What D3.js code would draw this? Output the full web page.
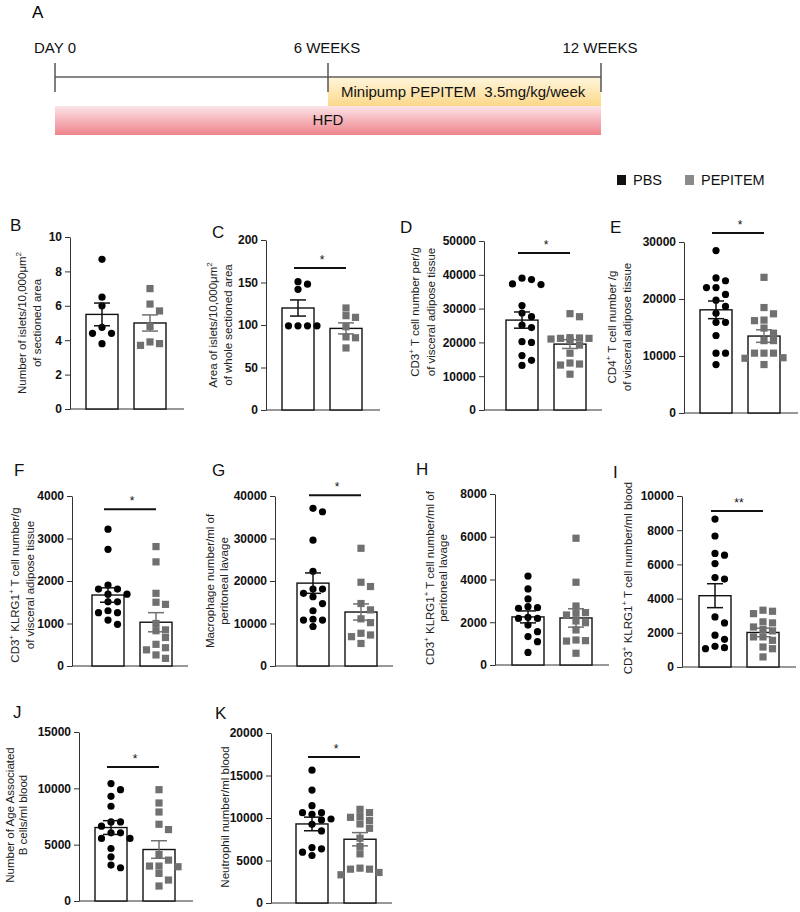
<!DOCTYPE html>
<html><head><meta charset="utf-8">
<script src="https://cdn.jsdelivr.net/npm/d3@7"></script>
<style>
body{margin:0;background:#fff}
svg{display:block}
text{font-family:"Liberation Sans",Arial,Helvetica,sans-serif}
</style>
</head><body>
<svg id="chart" width="800" height="912"></svg>
<script>
// ---------------- DATA ----------------
const groups = ["PBS", "PEPITEM"];

// Panel A timeline
const timelineLabels = ["DAY 0", "6 WEEKS", "12 WEEKS"];
const timelineWeeks = [0, 6, 12];
const treatmentLabel = "Minipump PEPITEM  3.5mg/kg/week";
const treatmentWeeks = [6, 12];
const dietLabel = "HFD";
const dietWeeks = [0, 12];

// Individual points per panel
const bPBS = [8.7, 6.5, 6.0, 4.75, 4.4, 4.4, 3.8];
const bPEP = [7.0, 6.1, 5.7, 4.8, 3.9, 3.8, 3.7];
const cPBS = [151, 148, 142, 99, 99, 99, 99];
const cPEP = [120, 111, 109, 98, 86, 85, 73];
const dPBS = [38600, 39000, 37100, 37300, 30900, 28700, 27600, 25100, 24400, 20000, 20200, 16100, 14700, 13200];
const dPEP = [27600, 28500, 21400, 21200, 21000, 21300, 21200, 20600, 19200, 16800, 13600, 13300, 13900, 10600];
const ePBS = [28500, 23700, 23200, 22000, 22000, 20800, 19800, 18700, 17500, 15900, 15900, 13600, 10500, 10500, 8500];
const ePEP = [23800, 18500, 17400, 16300, 16200, 14900, 14000, 12700, 12700, 10500, 10500, 10500, 9700, 9600, 8500];
const fPBS = [3220, 2745, 1905, 1810, 1810, 1690, 1690, 1510, 1510, 1255, 1255, 1300, 1080, 980];
const fPEP = [2810, 2450, 1710, 1500, 1450, 1000, 850, 830, 670, 510, 430, 380, 260, 180];
const gPBS = [37100, 36300, 29600, 22300, 18100, 18100, 17100, 16300, 14700, 13000, 10800, 11000, 10800, 9300];
const gPEP = [27700, 19700, 18700, 14700, 13200, 11100, 10200, 7700, 7300, 6900, 5300];
const hPBS = [4160, 3560, 3090, 2650, 2680, 2730, 2180, 2180, 2230, 1870, 1560, 1330, 1090, 590];
const hPEP = [5930, 3870, 2760, 2450, 2340, 2420, 2060, 1980, 1640, 1140, 1170, 1120, 550];
const iPBS = [8650, 7660, 6640, 6540, 6050, 5230, 5140, 2930, 2580, 1860, 1620, 1070, 1210, 1130];
const iPEP = [3320, 3260, 3120, 2580, 2640, 2340, 2110, 2190, 1760, 1560, 1760, 1170, 1070, 590];
const jPBS = [10420, 9880, 9290, 8410, 7020, 7020, 6640, 6050, 6050, 5550, 5550, 4660, 3920, 3190, 2950];
const jPEP = [9880, 8700, 7900, 6810, 6340, 4130, 3630, 3100, 3040, 3100, 2450, 1860, 1330];
const kPBS = [15630, 13280, 11450, 10630, 10630, 10430, 9880, 9260, 8480, 6520, 6370, 5980, 5590, 9770];
const kPEP = [11020, 10630, 10160, 9690, 10080, 9300, 8790, 7620, 6640, 5780, 3980, 3980, 4100, 3590, 3320];

const panelIds = ["B", "C", "D", "E", "F", "G", "H", "I", "J", "K"];
const pbsValues = [bPBS, cPBS, dPBS, ePBS, fPBS, gPBS, hPBS, iPBS, jPBS, kPBS];
const pepValues = [bPEP, cPEP, dPEP, ePEP, fPEP, gPEP, hPEP, iPEP, jPEP, kPEP];
const barMeans = [[5.5, 5.0], [120, 96], [26600, 19500], [18100, 13500], [1670, 1030],
                  [19500, 12700], [2250, 2200], [4170, 2020], [6520, 4570], [9300, 7500]];
const barSems = [[0.66, 0.47], [9.5, 6.5], [2400, 1300], [1550, 1100], [170, 225],
                 [2400, 1900], [280, 430], [700, 250], [610, 780], [800, 780]];
const yMaxes = [10, 200, 50000, 30000, 4000, 40000, 8000, 10000, 15000, 20000];
const yTickSteps = [2, 50, 10000, 10000, 1000, 10000, 2000, 2000, 5000, 5000];
const sigMarks = ["", "*", "*", "*", "*", "*", "", "**", "*", "*"];
const sigLevels = [null, 167, 46450, 31600, 3690, 40200, null, 9120, 11890, 17180];
const yTitles = [
  ["Number of islets/10,000μm^2", "of sectioned area"],
  ["Area of islets/10,000μm^2", "of whole sectioned area"],
  ["CD3^+ T cell number per/g", "of visceral adipose tissue"],
  ["CD4^+ T cell number /g", "of visceral adipose tissue"],
  ["CD3^+ KLRG1^+ T cell number/g", "of visceral adipose tissue"],
  ["Macrophage number/ml of", "peritoneal lavage"],
  ["CD3^+ KLRG1^+ T cell number/ml of", "peritoneal lavage"],
  ["CD3^+ KLRG1^+ T cell number/ml blood"],
  ["Number of Age Associated", "B cells/ml blood"],
  ["Neutrophil number/ml blood"]
];

// ---------------- LAYOUT ----------------
const layout = {
  B: {ax: 70,  top: 237, bot: 409, off: 16, tx: [22, 37],  ty: 323, lx: 10,  ly: 231},
  C: {ax: 266, top: 240, bot: 410, off: 16, tx: [213, 228], ty: 325, lx: 212, ly: 238},
  D: {ax: 484, top: 241, bot: 410, off: 22, tx: [415, 431], ty: 312, lx: 400, ly: 233},
  E: {ax: 684, top: 242, bot: 413, off: 16, tx: [612, 627], ty: 327, lx: 610, ly: 233},
  F: {ax: 72,  top: 496, bot: 666, off: 20, tx: [15, 30],  ty: 585, lx: 14,  ly: 476},
  G: {ax: 275, top: 496, bot: 666, off: 22, tx: [210, 224], ty: 581, lx: 212, ly: 476},
  H: {ax: 495, top: 494, bot: 665, off: 17, tx: [430, 443], ty: 578, lx: 416, ly: 475},
  I: {ax: 682, top: 496, bot: 667, off: 17, tx: [628],     ty: 578, lx: 613, ly: 478},
  J: {ax: 79,  top: 732, bot: 901, off: 16, tx: [10, 23],  ty: 815, lx: 13,  ly: 718},
  K: {ax: 271, top: 733, bot: 903, off: 25, tx: [225],     ty: 817, lx: 215, ly: 719}
};
const colPBS = "#000000", colPEP = "#707070";
const svg = d3.select("#chart");

// ---------------- PANEL A ----------------
const tx = d3.scaleLinear().domain([0, 12]).range([55, 601]);
const defs = svg.append("defs");
const gy = defs.append("linearGradient").attr("id", "gYellow").attr("x1", 0).attr("y1", 0).attr("x2", 0).attr("y2", 1);
gy.append("stop").attr("offset", "0%").attr("stop-color", "#fff6de");
gy.append("stop").attr("offset", "100%").attr("stop-color", "#fbd889");
const gr = defs.append("linearGradient").attr("id", "gRed").attr("x1", 0).attr("y1", 0).attr("x2", 0).attr("y2", 1);
gr.append("stop").attr("offset", "0%").attr("stop-color", "#fbe4e7");
gr.append("stop").attr("offset", "100%").attr("stop-color", "#ee848b");

svg.append("text").attr("x", 32).attr("y", 18).attr("font-size", 17).text("A");
const A = svg.append("g");
A.append("rect").attr("x", tx(treatmentWeeks[0])).attr("y", 77)
  .attr("width", tx(treatmentWeeks[1]) - tx(treatmentWeeks[0])).attr("height", 29).attr("fill", "url(#gYellow)");
A.append("rect").attr("x", tx(dietWeeks[0])).attr("y", 106)
  .attr("width", tx(dietWeeks[1]) - tx(dietWeeks[0])).attr("height", 29).attr("fill", "url(#gRed)");
A.append("line").attr("x1", tx(0)).attr("x2", tx(12)).attr("y1", 77).attr("y2", 77)
  .attr("stroke", "#111").attr("stroke-width", 1.2);
A.selectAll(".tick").data(timelineWeeks).join("line")
  .attr("x1", d => tx(d)).attr("x2", d => tx(d)).attr("y1", 63).attr("y2", 92)
  .attr("stroke", "#555").attr("stroke-width", 1.5);
A.selectAll(".tl").data(timelineLabels).join("text")
  .attr("x", (d, i) => i === 0 ? tx(timelineWeeks[i]) - 21 : tx(timelineWeeks[i]) - 1)
  .attr("y", 53).attr("font-size", 15).attr("fill", "#111")
  .attr("text-anchor", (d, i) => i === 0 ? "start" : "middle")
  .text(d => d);
A.append("text").attr("x", 341).attr("y", 97).attr("font-size", 15).attr("fill", "#111")
  .style("white-space", "pre").text(treatmentLabel);
A.append("text").attr("x", (tx(dietWeeks[0]) + tx(dietWeeks[1])) / 2).attr("y", 125)
  .attr("text-anchor", "middle").attr("font-size", 15).attr("fill", "#111").text(dietLabel);

// ---------------- LEGEND ----------------
const leg = svg.append("g");
const legX = [617, 685];
groups.forEach((g, i) => {
  leg.append("rect").attr("x", legX[i]).attr("y", 175).attr("width", 9).attr("height", 10)
    .attr("fill", i === 0 ? "#111" : "#8a8a8a");
  leg.append("text").attr("x", legX[i] + 16).attr("y", 185).attr("font-size", 14.5)
    .attr("fill", "#111").text(g);
});

// ---------------- helpers ----------------
function addRichText(sel, str) {
  const parts = str.split(/(\^.)/).filter(s => s.length);
  let up = false;
  parts.forEach(p => {
    if (p[0] === "^") {
      sel.append("tspan").attr("font-size", 8).attr("dy", -5).text(p.slice(1));
      up = true;
    } else {
      const t = sel.append("tspan").text(p);
      if (up) { t.attr("dy", 5); up = false; }
    }
  });
}

function beeswarm(vals, y, cx) {
  const pts = vals.map(v => ({v, py: y(v)})).sort((a, b) => a.py - b.py);
  const placed = [];
  const order = [0, 1, -1, 2, -2];
  const step = 9.5;
  pts.forEach(p => {
    let best = null, bestD = -1;
    for (const k of order) {
      const x = cx + k * step;
      let minD = Infinity;
      placed.forEach(q => {
        const d = Math.hypot(q.px - x, (q.py - p.py) * 1.2);
        if (d < minD) minD = d;
      });
      if (minD >= 8.5) { best = x; break; }
      if (minD > bestD) { bestD = minD; best = x; }
    }
    p.px = best; placed.push(p);
  });
  return placed;
}

// ---------------- PANELS ----------------
panelIds.forEach((id, idx) => {
  const L = layout[id];
  const g = svg.append("g");
  const y = d3.scaleLinear().domain([0, yMaxes[idx]]).range([L.bot, L.top]);
  const x = d3.scaleBand().domain(groups).range([L.ax + L.off, L.ax + L.off + 80]).paddingInner(1 / 3).paddingOuter(0);
  const bw = x.bandwidth();

  // panel label
  svg.append("text").attr("x", L.lx).attr("y", L.ly).attr("font-size", 17).attr("fill", "#111").text(id);

  // y axis
  const ticks = d3.range(0, yMaxes[idx] + yTickSteps[idx] / 2, yTickSteps[idx]);
  const yAx = g.append("g").attr("transform", `translate(${L.ax},0)`)
    .call(d3.axisLeft(y).tickValues(ticks).tickFormat(d3.format("d")).tickSize(5).tickSizeOuter(0));
  yAx.select(".domain").attr("stroke", "#333");
  yAx.selectAll(".tick line").attr("stroke", "#333");
  yAx.selectAll(".tick text").attr("font-size", 12).attr("font-weight", "bold").attr("fill", "#111")
    .attr("font-family", "'Liberation Sans', Arial, sans-serif");

  // x axis line
  const xEnd = Math.max(L.ax + 114, L.ax + L.off + 96);
  g.append("line").attr("x1", L.ax).attr("x2", xEnd).attr("y1", L.bot).attr("y2", L.bot)
    .attr("stroke", "#333").attr("stroke-width", 1);

  // bars
  g.selectAll(".bar").data(groups).join("rect")
    .attr("x", d => x(d)).attr("width", bw)
    .attr("y", (d, i) => y(barMeans[idx][i]))
    .attr("height", (d, i) => L.bot - y(barMeans[idx][i]))
    .attr("fill", "#fff").attr("stroke", "#111").attr("stroke-width", 1.4);

  // points
  const cxP = x("PBS") + bw / 2, cxE = x("PEPITEM") + bw / 2;
  const ptsP = beeswarm(pbsValues[idx], y, cxP);
  const ptsE = beeswarm(pepValues[idx], y, cxE);
  g.selectAll(".pp").data(ptsP).join("circle")
    .attr("cx", d => d.px).attr("cy", d => d.py).attr("r", 3.6).attr("fill", colPBS);
  g.selectAll(".pe").data(ptsE).join("rect")
    .attr("x", d => d.px - 3.6).attr("y", d => d.py - 3.6).attr("width", 7.2).attr("height", 7.2).attr("fill", colPEP);

  // error bars
  groups.forEach((gname, i) => {
    const cx = x(gname) + bw / 2;
    const m = barMeans[idx][i], s = barSems[idx][i];
    const col = i === 0 ? "#111" : colPEP;
    const eg = g.append("g").attr("stroke", col).attr("stroke-width", 1.5);
    eg.append("line").attr("x1", cx).attr("x2", cx).attr("y1", y(m + s)).attr("y2", y(m - s));
    eg.append("line").attr("x1", cx - 8).attr("x2", cx + 8).attr("y1", y(m + s)).attr("y2", y(m + s));
    eg.append("line").attr("x1", cx - 8).attr("x2", cx + 8).attr("y1", y(m - s)).attr("y2", y(m - s));
  });

  // significance
  if (sigLevels[idx] !== null) {
    const sy = y(sigLevels[idx]);
    g.append("line").attr("x1", cxP - 4).attr("x2", cxE).attr("y1", sy).attr("y2", sy)
      .attr("stroke", "#111").attr("stroke-width", 2);
    g.append("text").attr("x", (cxP + cxE) / 2).attr("y", sy - 4).attr("text-anchor", "middle")
      .attr("font-size", 12).attr("fill", "#111").text(sigMarks[idx]);
  }

  // y title
  yTitles[idx].forEach((line, li) => {
    const t = svg.append("text")
      .attr("transform", `translate(${L.tx[li]},${L.ty}) rotate(-90)`)
      .attr("text-anchor", "middle").attr("dy", "0.35em")
      .attr("font-size", 11.5).attr("fill", "#222");
    addRichText(t, line);
  });
});
</script>
</body></html>
